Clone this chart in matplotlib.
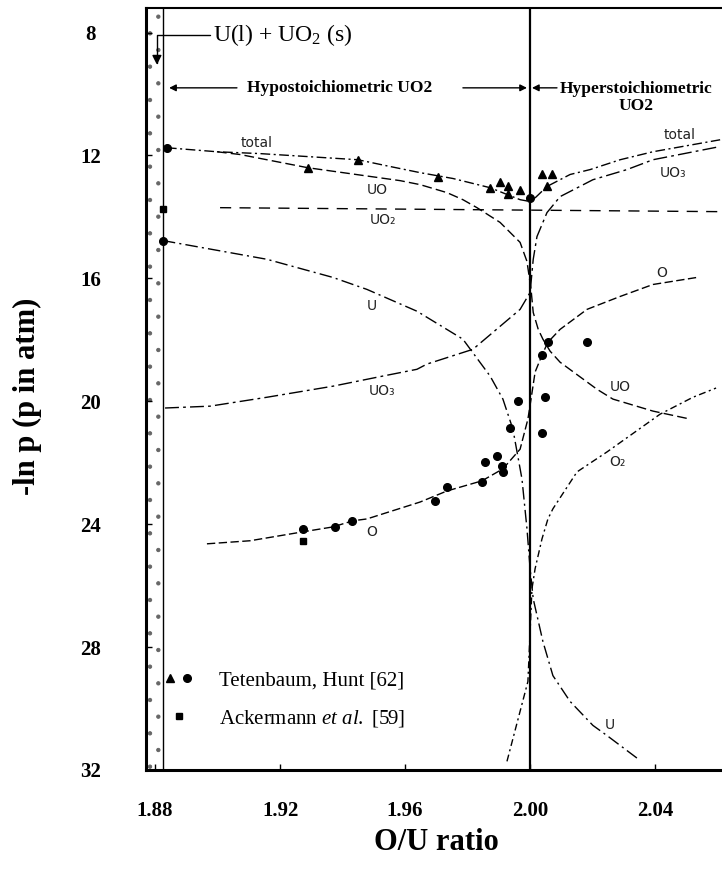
import matplotlib
matplotlib.use('Agg')
import matplotlib.pyplot as plt
from matplotlib.lines import Line2D
from matplotlib.legend_handler import HandlerTuple

plt.rcParams['font.family'] = 'Liberation Serif'
plt.rcParams['mathtext.fontset'] = 'custom'
plt.rcParams['mathtext.rm'] = 'Liberation Serif'
plt.rcParams['mathtext.it'] = 'Liberation Serif:italic'
plt.rcParams['mathtext.bf'] = 'Liberation Serif:bold'
plt.rcParams['hatch.linewidth'] = 0.7

# calculated partial pressures, -ln p against O/U
total_x = [1.8838, 1.8998, 1.9136, 1.9449, 1.9552, 1.9648, 1.9753, 1.9872, 1.9968, 2.0000,
           2.0010, 2.0054, 2.0128, 2.0192, 2.0288, 2.0393, 2.0608]
total_y = [11.75, 11.88, 11.94, 12.14, 12.36, 12.56, 12.75, 13.05, 13.44, 13.50,
           13.44, 13.01, 12.62, 12.46, 12.14, 11.88, 11.49]

uo_x = [1.8998, 1.9072, 1.9289, 1.9584, 1.9648, 1.9734, 1.9785, 1.9830, 1.9904, 1.9968, 1.9990,
        2.0003, 2.0010, 2.0026, 2.0041, 2.0064, 2.0096, 2.0214, 2.0265, 2.0393, 2.0512]
uo_y = [11.88, 11.97, 12.40, 12.82, 12.95, 13.21, 13.44, 13.70, 14.18, 14.83, 15.45,
        16.36, 17.11, 17.66, 17.98, 18.37, 18.73, 19.61, 19.93, 20.32, 20.58]

uo2_x = [1.9008, 2.0000, 2.0614]
uo2_y = [13.70, 13.78, 13.83]

uo3_x = [1.8832, 1.8976, 1.9158, 1.9369, 1.9529, 1.9638, 1.9670, 1.9817, 1.9968, 2.0000,
         2.0010, 2.0022, 2.0054, 2.0096, 2.0201, 2.0310, 2.0393, 2.0608]
uo3_y = [20.22, 20.16, 19.87, 19.51, 19.18, 18.96, 18.79, 18.31, 17.01, 16.46,
         15.38, 14.64, 13.86, 13.34, 12.79, 12.46, 12.14, 11.71]

u_x = [1.8825, 1.9158, 1.9369, 1.9478, 1.9638, 1.9785, 1.9872, 1.9913, 1.9945, 1.9974,
       1.9990, 2.0000, 2.0010, 2.0041, 2.0073, 2.0128, 2.0201, 2.0246, 2.0352]
u_y = [14.77, 15.38, 15.97, 16.36, 17.07, 17.98, 19.18, 19.93, 20.91, 22.53,
       24.15, 25.45, 26.43, 27.82, 28.93, 29.77, 30.55, 30.88, 31.69]

o_x = [1.8966, 1.9104, 1.9273, 1.9369, 1.9433, 1.9478, 1.9648, 1.9734, 1.9846, 1.9913, 1.9968,
       1.9993, 2.0003, 2.0016, 2.0038, 2.0057, 2.0096, 2.0182, 2.0288, 2.0393, 2.0534]
o_y = [24.64, 24.54, 24.25, 24.09, 23.89, 23.83, 23.28, 22.92, 22.59, 22.20, 21.56,
       20.58, 19.93, 19.05, 18.50, 18.08, 17.66, 17.01, 16.59, 16.20, 15.97]

o2_x = [1.9926, 1.9993, 2.0006, 2.0016, 2.0038, 2.0057, 2.0073, 2.0150, 2.0246, 2.0416, 2.0521, 2.0595]
o2_y = [31.72, 29.12, 26.10, 25.45, 24.48, 23.83, 23.50, 22.30, 21.65, 20.42, 19.87, 19.57]

# measured points
tri_x = [1.9289, 1.9449, 1.9705, 1.9872, 1.9904, 1.9929, 1.9968, 1.9929, 2.0038, 2.0070, 2.0054]
tri_y = [12.40, 12.14, 12.69, 13.05, 12.88, 12.98, 13.11, 13.27, 12.62, 12.62, 12.98]
circ_x = [1.8838, 1.8825, 2.0000, 1.9273, 1.9376, 1.9430, 1.9696, 1.9734, 1.9846, 1.9856,
          1.9894, 1.9910, 1.9913, 1.9935, 1.9961, 2.0048, 2.0038, 2.0182, 2.0057, 2.0038]
circ_y = [11.75, 14.77, 13.40, 24.15, 24.09, 23.89, 23.24, 22.79, 22.63, 21.98,
          21.78, 22.11, 22.30, 20.87, 20.00, 19.87, 21.04, 18.08, 18.08, 18.50]
sq_x = [1.8825, 1.9273]
sq_y = [13.73, 24.54]

# curve labels
lab_text = ['total', 'UO', 'UO₂', 'U', 'UO₃', 'O', 'total', 'UO₃', 'O', 'UO', 'O₂', 'U']
lab_x = [1.9126, 1.9510, 1.9529, 1.9494, 1.9526, 1.9494, 2.0480, 2.0457, 2.0422, 2.0288, 2.0278, 2.0256]
lab_y = [11.58, 13.11, 14.09, 16.91, 19.67, 24.25, 11.32, 12.56, 15.81, 19.54, 21.98, 30.55]

x_ticks = [1.88, 1.92, 1.96, 2.00, 2.04]
y_ticks = [8, 12, 16, 20, 24, 28, 32]
two_phase_edge = 1.8825
xmin, xmax = 1.8771, 2.0614
ymin, ymax = 7.2, 31.95

fig = plt.figure(figsize=(7.22, 8.84), dpi=100)
ax = fig.add_axes([0.2022, 0.1290, 0.7978, 0.8620])

ax.axvspan(xmin, two_phase_edge, fill=False, hatch='.', edgecolor='#666666', linewidth=0)
ax.axvline(two_phase_edge, color='k', lw=1.0)
ax.axvline(2.00, color='k', lw=1.6)

lw = 1.0
ax.plot(total_x, total_y, color='k', lw=lw, ls=(0, (7, 2.5, 1.5, 2.5)))
ax.plot(uo_x, uo_y, color='k', lw=lw, ls=(0, (7, 3)))
ax.plot(uo2_x, uo2_y, color='k', lw=lw, ls=(0, (8, 6)))
ax.plot(uo3_x, uo3_y, color='k', lw=lw, ls=(0, (10, 3, 2, 3)))
ax.plot(u_x, u_y, color='k', lw=lw, ls=(0, (9, 3, 1.5, 3)))
ax.plot(o_x, o_y, color='k', lw=lw, ls=(0, (6, 2.5)))
ax.plot(o2_x, o2_y, color='k', lw=lw, ls=(0, (5, 2.5, 1.5, 2.5)))

ax.plot(tri_x, tri_y, '^', color='k', ms=6, ls='none')
ax.plot(circ_x, circ_y, 'o', color='k', ms=5.5, ls='none')
ax.plot(sq_x, sq_y, 's', color='k', ms=4.5, ls='none')

for t, x, y in zip(lab_text, lab_x, lab_y):
    ax.text(x, y, t, family='DejaVu Sans', fontsize=10, color='#222222', ha='center', va='center')

# region annotations
ax.annotate('U(l) + UO$_2$ (s)', xy=(1.8806, 9.05), xytext=(1.8985, 8.08),
            fontsize=17, ha='left', va='center',
            arrowprops=dict(arrowstyle='-|>', color='k', lw=1.0, mutation_scale=14,
                            connectionstyle='angle,angleA=0,angleB=90,rad=0', shrinkA=0, shrinkB=0))
ax.text(1.9392, 9.80, 'Hypostoichiometric UO2', fontsize=12.5, fontweight='bold', ha='center', va='center')
arrow = dict(arrowstyle='-|>', color='k', lw=1.0, mutation_scale=10, shrinkA=0, shrinkB=0)
ax.annotate('', xy=(1.8845, 9.80), xytext=(1.9062, 9.80), arrowprops=arrow)
ax.annotate('', xy=(1.9990, 9.80), xytext=(1.9785, 9.80), arrowprops=arrow)
ax.annotate('', xy=(2.0006, 9.80), xytext=(2.0086, 9.80), arrowprops=arrow)
ax.text(2.0339, 10.12, 'Hyperstoichiometric\nUO2', fontsize=12.5, fontweight='bold',
        ha='center', va='center', multialignment='center', linespacing=1.1)

# legend
h_tri = Line2D([], [], marker='^', color='k', ls='none', ms=6)
h_circ = Line2D([], [], marker='o', color='k', ls='none', ms=5.5)
h_sq = Line2D([], [], marker='s', color='k', ls='none', ms=4.5)
ax.legend([(h_tri, h_circ), h_sq], ['Tetenbaum, Hunt [62]', 'Ackermann $\\it{et\\ al.}$ [59]'],
          handler_map={tuple: HandlerTuple(ndivide=None, pad=0.3)},
          loc='upper left', bbox_to_anchor=(0.033, 0.130), frameon=False, fontsize=15,
          borderpad=0, borderaxespad=0, handlelength=1.3, handletextpad=1.3, labelspacing=0.85)

ax.set_xlim(xmin, xmax)
ax.set_ylim(ymax, ymin)
ax.set_xticks(x_ticks)
ax.set_xticklabels([f'{v:.2f}' for v in x_ticks])
ax.set_yticks(y_ticks)
ax.tick_params(direction='in', length=4, width=1)
ax.tick_params(axis='x', pad=22, labelsize=15)
ax.tick_params(axis='y', pad=40, labelsize=15)
for lab in ax.get_xticklabels() + ax.get_yticklabels():
    lab.set_fontweight('bold')
for lab in ax.get_yticklabels():
    lab.set_horizontalalignment('center')

ax.spines['right'].set_visible(False)
ax.spines['left'].set_linewidth(2.2)
ax.spines['bottom'].set_linewidth(2.2)
ax.spines['top'].set_linewidth(1.5)

ax.set_xlabel('O/U ratio', fontsize=22, fontweight='bold')
ax.set_ylabel('-ln p (p in atm)', fontsize=22, fontweight='bold')
ax.xaxis.set_label_coords(0.505, -0.076)
ax.yaxis.set_label_coords(-0.18, 0.49)

fig.savefig('out.png', dpi=100)
